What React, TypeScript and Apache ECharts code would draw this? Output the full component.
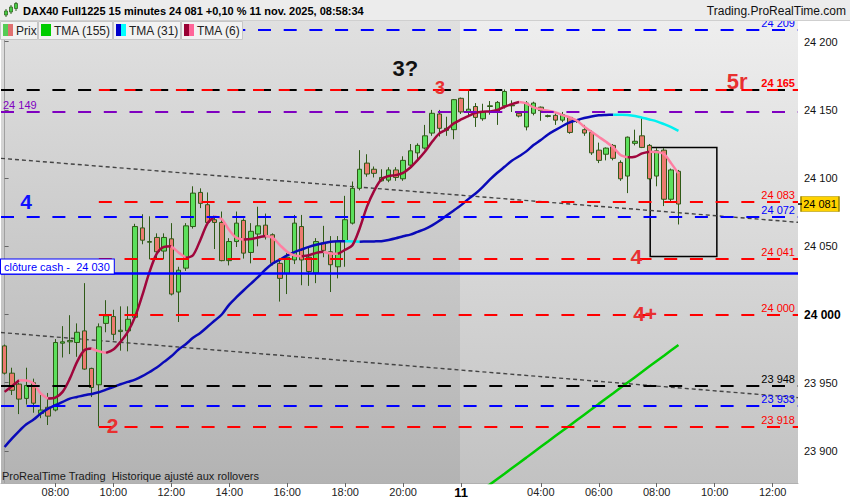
import React, { useEffect, useRef } from 'react';
import * as echarts from 'echarts';

const SLOT_COUNT = 110;
const timeTickIdx = [7, 15, 23, 31, 39, 47, 55, 63, 74, 82, 90, 98, 106];
const timeTickText = ['08:00', '10:00', '12:00', '14:00', '16:00', '18:00', '20:00', '11', '04:00', '06:00', '08:00', '10:00', '12:00'];

const opens = [23977, 23957, 23949, 23938.5, 23950, 23927.5, 23932, 23930, 23979, 23980, 23979.5, 23988, 23960.5, 23948.5, 23993.5, 23998.5, 23987.5, 23988, 23998, 24063.5, 24053, 24056.5, 24046.5, 24055.5, 24016.5, 24034, 24064.5, 24089.5, 24080.5, 24069.5, 24067.5, 24039.5, 24053.5, 24069, 24045.5, 24059, 24065.5, 24058.5, 24037.5, 24030, 24040, 24064.5, 24042, 24030.5, 24052.5, 24046, 24035, 24053.5, 24067, 24092.5, 24111, 24106.5, 24098, 24098.5, 24106, 24099.5, 24109.5, 24118.5, 24122, 24133, 24147, 24135, 24135.5, 24158.5, 24148.5, 24152.5, 24143.5, 24152.5, 24148.5, 24153, 24153, 24147.5, 24137.5, 24147.5, 24152, 24145.2, 24146, 24142.5, 24144.5, 24141.5, 24135.5, 24133.5, 24120.5, 24117.5, 24124, 24111.5, 24101.5, 24125.5, 24131, 24124, 24101.5, 24120.5, 24084.5, 24105];
const closes = [23957, 23944.5, 23938, 23948, 23935, 23930, 23925.5, 23979.5, 23980, 23981, 23987, 23960, 23946.5, 23991, 23999, 23985.5, 23988.5, 23996.5, 24064.5, 24054.5, 24053.5, 24046, 24056.5, 24015, 24032.5, 24065, 24089, 24081.5, 24067.5, 24067.5, 24039.5, 24053.5, 24067, 24045, 24061, 24065, 24057, 24037.5, 24026.5, 24042, 24067, 24040, 24031.5, 24053.5, 24047, 24036.5, 24053.5, 24069.5, 24092.5, 24106.5, 24103, 24103.5, 24100.5, 24106, 24100.5, 24113, 24120, 24124, 24131, 24147.5, 24136.5, 24136.5, 24157.5, 24148.5, 24150.5, 24144.5, 24148.5, 24153, 24155.5, 24163.5, 24153.5, 24145.5, 24155, 24155, 24149.5, 24145.8, 24142.5, 24146.5, 24133.5, 24142, 24133, 24118.5, 24113, 24122, 24114.5, 24099.5, 24130, 24127, 24122.5, 24099.5, 24120, 24084.5, 24106, 24081];
const lows = [23956, 23941, 23927, 23934, 23928, 23924, 23919, 23929, 23968.5, 23971, 23969, 23959.5, 23939.5, 23918, 23987, 23981, 23973.5, 23973, 23997, 24051.5, 24040.5, 24040, 24040.5, 24014, 23994.5, 24032, 24063, 24078, 24065.5, 24048, 24039, 24036, 24049.5, 24041, 24037.5, 24050, 24055, 24036, 24009.5, 24015, 24037, 24021.5, 24021, 24023, 24042, 24016.5, 24026.5, 24035, 24066, 24091, 24101, 24100.5, 24097.5, 24097, 24098, 24098, 24107, 24113, 24121, 24131, 24130.5, 24131, 24128.5, 24147, 24146, 24137.5, 24142, 24146.5, 24139, 24151, 24148.5, 24144.5, 24135, 24146, 24142, 24144.5, 24139, 24141, 24132.5, 24140.5, 24131, 24117, 24111, 24113, 24113, 24098, 24089, 24124, 24122, 24098.5, 24094, 24079.5, 24083, 24066];
const highs = [23978, 23961, 23950, 23961, 23953, 23941, 23942.5, 23982, 23991.5, 23999.5, 23993.5, 24023, 23961, 23993.5, 24010.5, 24003.5, 24006, 24006, 24066.5, 24073.5, 24072, 24059.5, 24059.5, 24067, 24035, 24067, 24094, 24092.5, 24089.5, 24071.5, 24075.5, 24056, 24075.5, 24070.5, 24067, 24079, 24074, 24059.5, 24040, 24045, 24073, 24073, 24050, 24056, 24065, 24057.5, 24057.5, 24087, 24097.5, 24120.5, 24117.5, 24108.5, 24106.5, 24108, 24108, 24116, 24125, 24125.5, 24139, 24150, 24150, 24145, 24158, 24159, 24165, 24155, 24154.5, 24156.5, 24156.5, 24165, 24157, 24148, 24156.5, 24156, 24152.5, 24146.5, 24147.5, 24148.5, 24145, 24143, 24139, 24135, 24126, 24122.5, 24125, 24113, 24130.5, 24135.5, 24144, 24125, 24122, 24122, 24107, 24106];

const tma6 = [23943.3, 23947.4, 23951.8, 23951.6, 23949.4, 23942, 23938.4, 23939.1, 23943.3, 23953, 23965.3, 23973.8, 23975.1, 23973.1, 23971.9, 23974.3, 23980, 23987.3, 23998.3, 24014, 24031.2, 24044.7, 24049.6, 24050.1, 24045.5, 24041.6, 24043.5, 24054.5, 24066.8, 24072.1, 24069.7, 24061.9, 24056.2, 24055, 24055.3, 24056.5, 24057.5, 24056.2, 24050.9, 24046, 24043.3, 24042.8, 24043.5, 24045.2, 24046, 24044.7, 24044.5, 24047.5, 24050.8, 24063.1, 24078.9, 24090.7, 24099, 24101.5, 24102.2, 24103.9, 24107.8, 24113.2, 24119.3, 24126.6, 24132.8, 24135.7, 24140.1, 24143, 24145.5, 24147.9, 24148.7, 24148.9, 24149.9, 24152.3, 24154.2, 24155.8, 24154.8, 24151.8, 24150.4, 24149.4, 24148.2, 24146.2, 24144.5, 24142.1, 24137.6, 24134, 24130.3, 24126.6, 24122.5, 24116.9, 24115.2, 24115.6, 24118.1, 24119.3, 24119.2, 24117.6, 24110.8, 24103.4];
const tma31 = [23902.9, 23909, 23914.6, 23919.5, 23923, 23927.4, 23931, 23933.5, 23935.9, 23938.4, 23939.6, 23940.8, 23941.8, 23943, 23945, 23946.9, 23948.9, 23950.6, 23952.3, 23954.8, 23957.9, 23961.1, 23965.3, 23969.4, 23974.3, 23978.2, 23982.9, 23986.5, 23991, 23995.6, 24000.2, 24007.3, 24012.7, 24017.8, 24022.7, 24027.6, 24033, 24037.4, 24040.3, 24043.3, 24045.7, 24047.7, 24049.6, 24051.1, 24052.3, 24053.3, 24053.7, 24053.8, 24053.6, 24053.4, 24053.5, 24053.6, 24053.8, 24054.7, 24055.9, 24057.4, 24058.6, 24060.6, 24062.6, 24065.3, 24068.7, 24072.6, 24076.3, 24080.2, 24084.6, 24088.7, 24093.6, 24099, 24103.9, 24108.3, 24112.7, 24116, 24119.6, 24124.2, 24127.9, 24132, 24135.2, 24138.2, 24140.8, 24142.5, 24144, 24145.2, 24146, 24146.3, 24146.5, 24146.4, 24146.2, 24145.5, 24144.3, 24143, 24141.6, 24139.6, 24137.4, 24134.7];
const tma155Start = 66;
const tma155 = [23871.6, 23875.5, 23879.4, 23883.3, 23887.3, 23891.2, 23895.1, 23899.1, 23903, 23906.9, 23910.9, 23914.8, 23918.7, 23922.7, 23926.6, 23930.5, 23934.5, 23938.4, 23942.3, 23946.3, 23950.2, 23954.1, 23958, 23962, 23965.9, 23969.8, 23973.8, 23977.7];

const levelValues = [24209, 24165, 24149, 24083, 24072, 24041, 24030, 24000, 23948, 23933, 23918];
const levelStartSlot = 13;
const currentPrice = 24081;
const cashLabel = 'clôture cash -  24 030';

const trendUpper = [24114.5, 24067.6];
const trendLower = [23986.8, 23939.1];

const boxX = [89.1, 98.3];
const boxY = [24042.6, 24122.5];

const noteTexts = ['3?', '3', '5r', '4', '4', '4+', '2'];
const noteX = [55.3, 60.1, 101.1, 2.95, 87.2, 88.4, 14.9];
const noteY = [24180.7, 24166, 24170.5, 24083, 24042.9, 24001, 23918.9];

const FONT = '"Liberation Sans", Arial, Helvetica, sans-serif';
const fmt = (n: number) => {
  const s = Math.round(n).toString();
  return s.slice(0, s.length - 3) + ' ' + s.slice(-3);
};

function runs(vals: number[], start: number) {
  const out: { rising: boolean; pts: number[][] }[] = [];
  let i = 0;
  while (i < vals.length - 1) {
    const rising = vals[i + 1] >= vals[i];
    let j = i;
    while (j < vals.length - 1 && (vals[j + 1] >= vals[j]) === rising) j++;
    const pts: number[][] = [];
    for (let k = i; k <= j; k++) pts.push([start + k, vals[k]]);
    out.push({ rising, pts });
    i = j;
  }
  return out;
}

export default function App() {
  const ref = useRef<HTMLDivElement>(null);
  useEffect(() => {
    document.body.style.margin = '0';
    const chart = echarts.init(ref.current!, null, { renderer: 'svg' });
    const X0 = -0.5, X1 = SLOT_COUNT - 0.5;
    const red = '#ff0000', blue = '#0000ff', black = '#000000', purple = '#7f00c0';
    const dash = [13, 12.7];
    const lbl = (v: number, color: string, bold = false) => ({
      show: true, position: 'insideEndTop', distance: [3, 1], formatter: fmt(v),
      color, fontSize: 11, fontFamily: FONT, fontWeight: bold ? 'bold' : 'normal',
    });
    const full = (v: number, color: string, label: any = { show: false }, extra: any = {}) => ({
      yAxis: v, lineStyle: { color, width: 2, type: dash, ...extra }, label,
    });
    const part = (v: number, color: string, label: any, extra: any = {}) => ([
      { coord: [levelStartSlot, v], lineStyle: { color, width: 2, type: dash, ...extra }, label },
      { coord: [X1, v] },
    ]);
    const [L209, L165, L149, L083, L072, L041, L030, L000, L948, L933, L918] = levelValues;
    const markLines: any[] = [
      full(L209, blue, lbl(L209, blue)),
      full(L165, black),
      part(L165, red, lbl(L165, red, true), { type: [11, 14.7] }),
      full(L149, purple, { ...lbl(L149, purple), position: 'insideStartTop', distance: [2, 1] }),
      part(L083, red, lbl(L083, red)),
      full(L072, blue, lbl(L072, blue)),
      part(L041, red, lbl(L041, red)),
      {
        yAxis: L030, lineStyle: { color: blue, width: 2.5, type: 'solid' },
        label: {
          show: true, position: 'insideStartTop', distance: [0, 0], formatter: cashLabel,
          color: blue, fontSize: 11, fontFamily: FONT, backgroundColor: '#fff', borderColor: blue,
          borderWidth: 1, padding: [2, 4, 1, 3],
        },
      },
      part(L000, red, lbl(L000, red)),
      full(L948, black, lbl(L948, black)),
      full(L933, blue, lbl(L933, blue)),
      part(L918, red, lbl(L918, red)),
    ];

    const series: any[] = [];
    series.push({
      type: 'line', xAxisIndex: 1, data: [], z: 1, silent: true,
      markLine: { silent: true, symbol: ['none', 'none'], animation: false, data: markLines },
      markArea: {
        silent: true,
        itemStyle: { color: 'rgba(0,0,0,0)', borderColor: '#000', borderWidth: 1.5 },
        data: [[{ coord: [boxX[0], boxY[1]] }, { coord: [boxX[1], boxY[0]] }]],
      },
      markPoint: {
        silent: true,
        data: [
          {
            coord: [X1, currentPrice], symbol: 'rect', symbolSize: [38, 15], symbolOffset: [22, 0],
            itemStyle: { color: '#ffd200', borderColor: '#a08a00', borderWidth: 1 },
            label: { show: true, position: 'inside', formatter: fmt(currentPrice), color: '#000', fontSize: 11, fontFamily: FONT },
          },
          {
            coord: [X1, currentPrice], symbol: 'rect', symbolSize: [4, 1.5], symbolOffset: [2, 0],
            itemStyle: { color: '#000' }, label: { show: false },
          },
        ],
      },
    });
    [trendUpper, trendLower].forEach((t) => {
      series.push({
        type: 'line', xAxisIndex: 1, z: 1, silent: true, symbol: 'none',
        data: [[X0, t[0]], [X1, t[1]]],
        lineStyle: { color: '#444', width: 1.4, type: [4, 3] },
      });
    });
    series.push({
      type: 'candlestick', xAxisIndex: 0, z: 2, barWidth: 5,
      data: opens.map((o, i) => [o, closes[i], lows[i], highs[i]]),
      itemStyle: {
        color: '#5ce05c', color0: '#ec7b70', borderColor: '#2f5a17', borderColor0: '#2f5a17', borderWidth: 1,
      },
    });
    series.push({
      type: 'line', xAxisIndex: 1, z: 3, symbol: 'none', silent: true,
      data: tma155.map((v, i) => [tma155Start + i, v]),
      lineStyle: { color: '#00cc00', width: 2.5 },
    });
    runs(tma31, 0).forEach((r) => series.push({
      type: 'line', xAxisIndex: 1, z: 3, symbol: 'none', silent: true, smooth: 0.3, data: r.pts,
      lineStyle: { color: r.rising ? '#0a0ab8' : '#00f0f0', width: 2.5 },
    }));
    runs(tma6, 0).forEach((r) => series.push({
      type: 'line', xAxisIndex: 1, z: 4, symbol: 'none', silent: true, smooth: 0.3, data: r.pts,
      lineStyle: { color: r.rising ? '#a0063c' : '#ff7fa2', width: 2.5 },
    }));
    const noteColor = ['#111111', '#e83030', '#e83030', '#1010ff', '#e83030', '#e83030', '#e83030'];
    const noteSize = [22, 18, 22, 21, 21, 21, 21];
    noteTexts.forEach((t, i) => {
      series.push({
        type: 'scatter', xAxisIndex: 1, z: 6, silent: true, symbol: 'circle', symbolSize: 0,
        itemStyle: { color: noteColor[i], opacity: 1 },
        data: [[noteX[i], noteY[i]]],
        label: {
          show: true, position: 'inside', formatter: t, color: noteColor[i], fontSize: noteSize[i],
          fontWeight: 'bold', fontFamily: FONT, textBorderWidth: 0, opacity: 1,
        },
      });
    });

    const legendItems = [
      { x: 0, w: 37, text: 'Prix', c1: '#55cc55', c2: '#e07070' },
      { x: 38, w: 74, text: 'TMA (155)', c1: '#00cc00', c2: '#00cc00' },
      { x: 113, w: 67, text: 'TMA (31)', c1: '#0000cc', c2: '#00ffff' },
      { x: 181, w: 61, text: 'TMA (6)', c1: '#990033', c2: '#ff6699' },
    ];
    const graphics: any[] = [
      {
        type: 'rect', z: -10, silent: true, shape: { x: 1, y: 20, width: 459, height: 463 },
        style: { fill: new echarts.graphic.LinearGradient(0, 0, 0, 1, [{ offset: 0, color: '#e0e0e0' }, { offset: 1, color: '#b3b3b3' }]) },
      },
      {
        type: 'rect', z: -10, silent: true, shape: { x: 460, y: 20, width: 338, height: 463 },
        style: { fill: new echarts.graphic.LinearGradient(0, 0, 0, 1, [{ offset: 0, color: '#eeeeee' }, { offset: 1, color: '#c2c2c2' }]) },
      },
      { type: 'rect', z: 50, silent: true, shape: { x: 0, y: 0, width: 850, height: 20 }, style: { fill: '#ececec' } },
      { type: 'line', z: 50, silent: true, shape: { x1: 0, y1: 20.5, x2: 850, y2: 20.5 }, style: { stroke: '#cfcfcf', lineWidth: 1 } },
      { type: 'line', z: 51, silent: true, shape: { x1: 6, y1: 9, x2: 6, y2: 17 }, style: { stroke: '#336622', lineWidth: 1 } },
      { type: 'rect', z: 52, silent: true, shape: { x: 4.5, y: 11, width: 3, height: 4 }, style: { fill: '#44cc44', stroke: '#336622', lineWidth: 0.8 } },
      { type: 'line', z: 51, silent: true, shape: { x1: 11, y1: 5, x2: 11, y2: 14 }, style: { stroke: '#336622', lineWidth: 1 } },
      { type: 'rect', z: 52, silent: true, shape: { x: 9.5, y: 7, width: 3, height: 5 }, style: { fill: '#44cc44', stroke: '#336622', lineWidth: 0.8 } },
      { type: 'line', z: 51, silent: true, shape: { x1: 16, y1: 2, x2: 16, y2: 11 }, style: { stroke: '#336622', lineWidth: 1 } },
      { type: 'rect', z: 52, silent: true, shape: { x: 14.5, y: 3.5, width: 3, height: 5 }, style: { fill: '#44cc44', stroke: '#336622', lineWidth: 0.8 } },
      {
        type: 'text', z: 52, silent: true,
        style: { text: 'DAX40 Full1225 15 minutes 24 081 +0,10 % 11 nov. 2025, 08:58:34', x: 23, y: 11, verticalAlign: 'middle', font: `bold 11px ${FONT}`, fill: '#000' },
      },
      {
        type: 'text', z: 52, silent: true,
        style: { text: 'Trading.ProRealTime.com', x: 846, y: 11, align: 'right', verticalAlign: 'middle', font: `12px ${FONT}`, fill: '#111' },
      },
      {
        type: 'text', z: 20, silent: true,
        style: { text: 'ProRealTime Trading  Historique ajusté aux rollovers', x: 2, y: 476, verticalAlign: 'middle', font: `11px ${FONT}`, fill: '#1a1a1a' },
      },
    ];
    legendItems.forEach((it) => {
      graphics.push({ type: 'rect', z: 50, silent: true, shape: { x: it.x + 0.5, y: 21.5, width: it.w, height: 18 }, style: { fill: '#f2f2f2', stroke: '#c6c6c6', lineWidth: 1 } });
      graphics.push({ type: 'rect', z: 51, silent: true, shape: { x: it.x + 3, y: 24, width: 5, height: 12 }, style: { fill: it.c1 } });
      graphics.push({ type: 'rect', z: 51, silent: true, shape: { x: it.x + 8, y: 24, width: 5, height: 12 }, style: { fill: it.c2 } });
      graphics.push({ type: 'text', z: 51, silent: true, style: { text: it.text, x: it.x + 16, y: 30.5, verticalAlign: 'middle', font: `12px ${FONT}`, fill: '#222' } });
    });

    const yTicks = [23900, 23950, 24000, 24050, 24100, 24150, 24200];
    chart.setOption({
      animation: false,
      backgroundColor: '#ffffff',
      grid: { left: 1, right: 52, top: 20, bottom: 17, containLabel: false, outerBoundsMode: 'none' },
      xAxis: [
        {
          type: 'category', data: Array.from({ length: SLOT_COUNT }, (_, i) => String(i)), boundaryGap: true,
          axisLine: { show: true, lineStyle: { color: '#b0b0b0' } },
          axisTick: { show: true, interval: (i: number) => timeTickIdx.includes(i), alignWithLabel: true, length: 4, lineStyle: { color: '#666' } },
          axisLabel: {
            interval: (i: number) => timeTickIdx.includes(i),
            formatter: (_v: string, i: number) => {
              const k = timeTickIdx.indexOf(i);
              if (k < 0) return '';
              return timeTickText[k] === '11' ? '{b|11}' : timeTickText[k];
            },
            color: '#222', fontSize: 11, fontFamily: FONT, margin: 3,
            rich: { b: { fontWeight: 'bold', fontSize: 13, color: '#000', fontFamily: FONT } },
          },
          splitLine: { show: false },
        },
        { type: 'value', min: X0, max: X1, show: false, splitLine: { show: false } },
      ],
      yAxis: {
        type: 'value', position: 'right', min: 23876.5, max: 24215.9, scale: true,
        axisLine: { show: true, lineStyle: { color: '#a0a0a0' } },
        axisTick: { show: true, length: 4, customValues: yTicks, lineStyle: { color: '#666' } },
        axisLabel: {
          customValues: yTicks, color: '#111', fontSize: 11, fontFamily: FONT, margin: 6,
          formatter: (v: number) => (v === 24000 ? '{b|24 000}' : fmt(v)),
          rich: { b: { fontWeight: 'bold', fontSize: 12, color: '#000', fontFamily: FONT } },
        },
        splitLine: { show: false },
      },
      graphic: graphics,
      series,
    });
    return () => chart.dispose();
  }, []);
  return <div ref={ref} style={{ width: 850, height: 500 }} />;
}
